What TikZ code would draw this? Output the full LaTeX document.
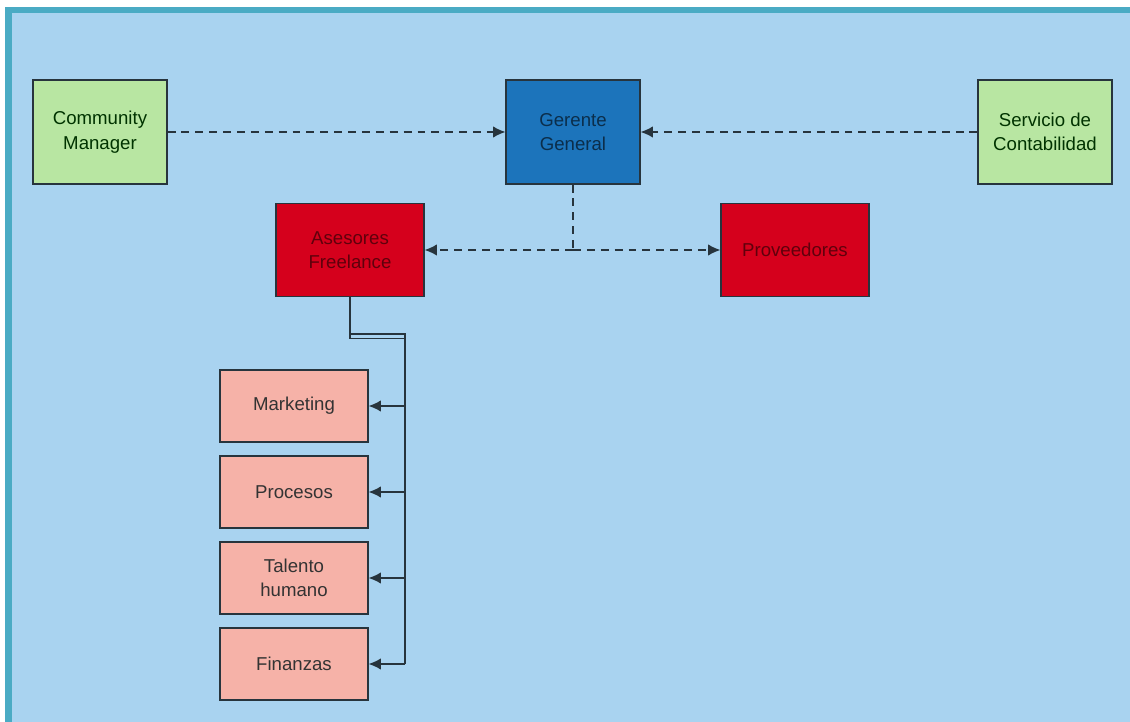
\documentclass[tikz,border=0pt]{standalone}
\usepackage{fontspec}
\setmainfont{Liberation Sans}
\usetikzlibrary{arrows.meta}

\definecolor{sky}{HTML}{A9D3F0}
\definecolor{teal}{HTML}{4AABC4}
\definecolor{lime}{HTML}{B8E6A2}
\definecolor{boss}{HTML}{1C74BB}
\definecolor{alarm}{HTML}{D5001C}
\definecolor{salmon}{HTML}{F6B2A8}
\definecolor{ink}{HTML}{27343D}

\begin{document}
\begin{tikzpicture}

\tikzset{box/.style = {shape=rectangle,draw=ink,line width=0.7pt,align=center,
  font=\fontsize{10.6}{14}\selectfont,minimum width=2.68cm,minimum height=2.08cm}}
\tikzset{green/.style = {box,fill=lime,text=black!80!green}}
\tikzset{blue/.style = {box,fill=boss,text=boss!40!black}}
\tikzset{red/.style = {box,fill=alarm,text=alarm!45!black,minimum width=2.96cm,minimum height=1.86cm}}
\tikzset{area/.style = {box,fill=salmon,text=black!80,minimum width=2.96cm,minimum height=1.44cm}}
\tikzset{tip/.style = {-{Latex[length=7pt,width=6.5pt]}}}
\tikzset{link/.style = {tip,ink,line width=0.7pt,dash pattern=on 4.5pt off 3.4pt}}
\tikzset{tree/.style = {ink,line width=0.7pt}}

% frame
\useasboundingbox (0,0) rectangle (22.6,-14.44);
\fill[white] (0,0) rectangle (22.6,-14.44);
\fill[teal] (0.1,-0.14) rectangle (22.6,-14.44);
\fill[sky] (0.24,-0.26) rectangle (22.6,-14.44);

\node[green] (cm) at (2,-2.64) {Community\\Manager};
\node[blue] (gg) at (11.46,-2.64) {Gerente\\General};
\node[green] (sc) at (20.9,-2.64) {Servicio de\\Contabilidad};
\node[red] (ase) at (7,-5) {Asesores\\Freelance};
\node[red] (prov) at (15.9,-5) {Proveedores};

\node[area] (mkt) at (5.88,-8.12) {Marketing};
\node[area] (proc) at (5.88,-9.84) {Procesos};
\node[area] (tal) at (5.88,-11.56) {Talento\\humano};
\node[area] (fin) at (5.88,-13.28) {Finanzas};

\coordinate (split) at (11.46,-5);
\coordinate (k1) at (7,-6.68);
\coordinate (k2) at (7,-6.77);
\coordinate (k3) at (8.1,-6.68);
\coordinate (k4) at (8.1,-6.77);

\draw[link] (cm) -- (gg);
\draw[link] (sc) -- (gg);
\draw[link,-] (gg) -- (split);
\draw[link] (split) -- (ase);
\draw[link] (split) -- (prov);

\draw[tree] (ase.south) -- (k2) -- (k4);
\draw[tree] (k1) -- (k3) -- (k3 |- fin.east);
\foreach \n in {mkt,proc,tal,fin}
  \draw[tree,tip] (k3 |- \n.east) -- (\n.east);

\end{tikzpicture}
\end{document}
